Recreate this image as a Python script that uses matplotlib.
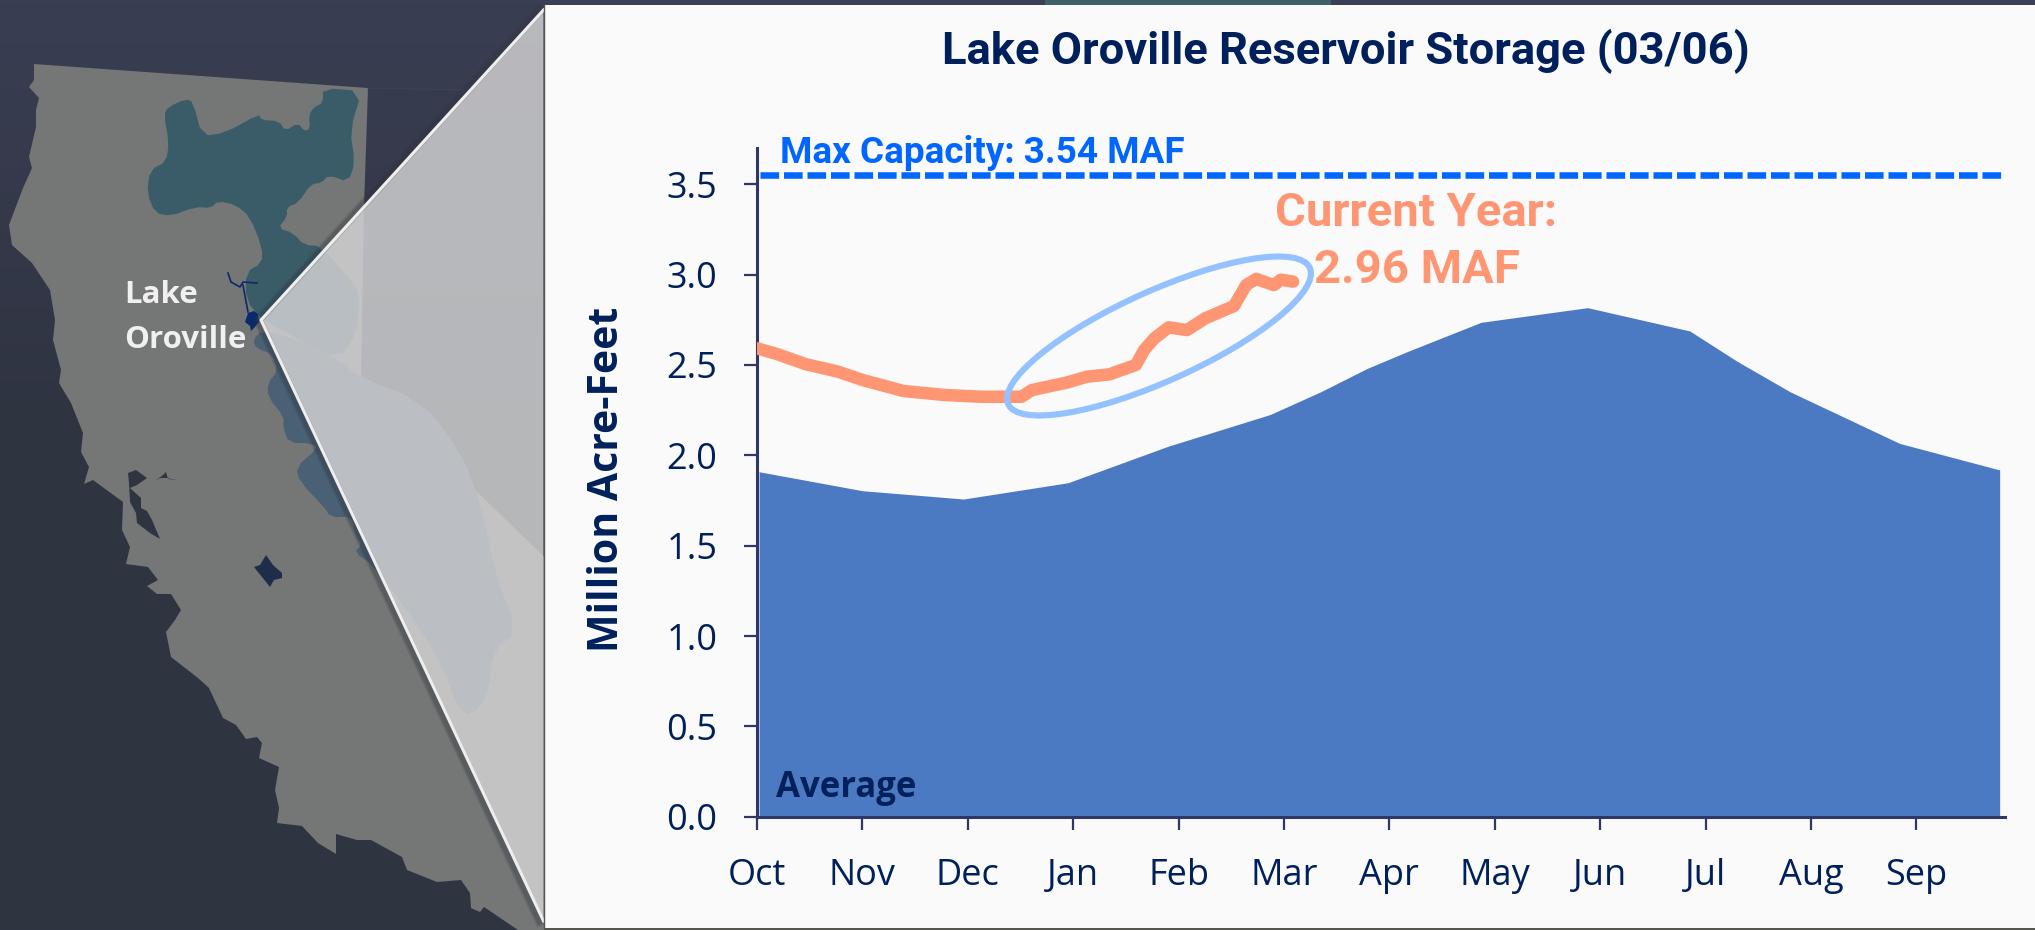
"""
Lake Oroville reservoir storage chart with the California locator map on the left.
"""

import numpy as np
import matplotlib
matplotlib.use("Agg")
import matplotlib.pyplot as plt
from matplotlib.patches import Polygon, Rectangle, Ellipse

# =========================
# Data
# =========================

MONTHS = ["Oct", "Nov", "Dec", "Jan", "Feb", "Mar", "Apr", "May", "Jun", "Jul", "Aug", "Sep"]
Y_TICKS = [0.0, 0.5, 1.0, 1.5, 2.0, 2.5, 3.0, 3.5]

# x is in months since 1 Oct
AVG_X = [0.02, 1.0, 1.96, 2.95, 3.9, 4.87, 5.35, 5.79, 6.17, 6.87, 7.88, 8.85, 9.3, 9.80, 10.84, 11.79]
AVG_Y = [1.909, 1.804, 1.758, 1.848, 2.05, 2.226, 2.352, 2.481, 2.574, 2.736, 2.817, 2.688, 2.52, 2.352, 2.066, 1.919]

CUR_X = [0.0, 0.187, 0.458, 0.768, 1.0, 1.388, 1.775, 2.123, 2.51, 2.607, 2.937, 3.13, 3.343,
         3.595, 3.673, 3.77, 3.905, 4.079, 4.253, 4.525, 4.641, 4.737, 4.904, 4.97, 5.086]
CUR_Y = [2.592, 2.561, 2.505, 2.463, 2.417, 2.356, 2.334, 2.324, 2.324, 2.361, 2.402, 2.435, 2.448,
         2.5, 2.583, 2.647, 2.708, 2.693, 2.758, 2.826, 2.942, 2.976, 2.942, 2.972, 2.961]

MAX_CAPACITY_LINE = 3.55

# Map outlines, traced in picture pixels
CALIFORNIA = [(34, 64), (34, 80), (29, 87), (39, 98), (36, 110), (36, 127), (29, 157), (32, 168), (23, 188),
              (9, 225), (12, 245), (32, 263), (50, 290), (55, 320), (53, 340), (61, 370), (59, 383), (71, 403),
              (83, 433), (81, 452), (89, 467), (84, 484), (93, 480), (123, 502), (122, 530), (130, 547), (126, 564),
              (148, 567), (158, 580), (147, 586), (157, 594), (171, 594), (181, 610), (175, 620), (166, 632),
              (171, 657), (198, 678), (209, 688), (223, 718), (236, 725), (246, 739), (257, 737), (262, 743),
              (259, 758), (279, 767), (275, 790), (279, 808), (277, 823), (302, 826), (318, 843), (336, 854),
              (336, 834), (357, 840), (371, 840), (402, 857), (407, 870), (437, 882), (461, 880), (470, 893),
              (471, 908), (480, 912), (484, 907), (518, 930), (560, 930), (560, 572), (361, 380), (364, 207), (368, 88)]
UPPER_BASIN = [(323, 88), (362, 91), (350, 130), (355, 163), (348, 182), (329, 175), (321, 183), (311, 184),
               (298, 203), (287, 207), (287, 217), (278, 228), (293, 233), (304, 245), (321, 246), (357, 287),
               (359, 300), (357, 333), (339, 360), (300, 340), (262, 320), (246, 300), (246, 272), (262, 263),
               (262, 247), (250, 217), (236, 205), (218, 201), (211, 208), (195, 207), (171, 216), (155, 213),
               (147, 193), (150, 170), (166, 162), (169, 143), (164, 115), (168, 107), (186, 99), (193, 102),
               (202, 136), (225, 133), (259, 114), (261, 120), (279, 121), (285, 131), (298, 123), (304, 131),
               (310, 129), (309, 115), (314, 107), (323, 103)]
SIERRA = [(262, 330), (253, 340), (256, 348), (272, 354), (278, 370), (268, 383), (268, 397), (284, 417),
          (283, 427), (289, 443), (310, 443), (318, 448), (296, 467), (300, 482), (325, 508), (330, 517),
          (352, 517), (355, 535), (362, 545), (354, 552), (373, 565), (400, 600), (440, 660), (457, 707),
          (471, 717), (489, 693), (493, 650), (518, 632), (495, 573), (482, 507), (460, 450), (420, 400),
          (361, 378), (339, 360), (300, 340)]
BAY = [(128, 473), (136, 470), (147, 478), (137, 485), (130, 488), (141, 498), (141, 508), (147, 511),
       (152, 520), (160, 539), (150, 533), (137, 523), (136, 513), (130, 502), (129, 483)]
DELTA = [(155, 481), (163, 475), (166, 472), (168, 479), (178, 480), (166, 478), (160, 478)]
TULARE = [(266, 555), (273, 565), (282, 573), (282, 578), (274, 580), (270, 587), (262, 577), (254, 567), (260, 565)]
OROVILLE_ARM_1 = [(228, 273), (231, 282), (240, 287), (243, 282), (257, 283)]
OROVILLE_ARM_2 = [(243, 285), (245, 296), (248, 312)]
OROVILLE_LAKE = [(245, 322), (248, 313), (254, 311), (258, 314), (259, 322), (254, 328), (251, 331), (250, 326)]
CONE = [(261, 320), (543.5, 10), (543.5, 921)]

# =========================
# Styling
# =========================

NAVY = "#00205b"
ORANGE = "#ff9673"
BLUE = "#0066ff"
FILL = "#4c7ac2"
LIGHT_BLUE = "#94c1ff"
AXIS = "#2f3768"
PANEL = "#fafafa"

W, H = 2035, 930


def rounded(outline):
    """Cut the corners of a traced outline so it reads as a soft shape."""
    pts = np.array(outline, dtype=float)
    nxt = np.roll(pts, -1, axis=0)
    return np.column_stack([0.75 * pts + 0.25 * nxt, 0.25 * pts + 0.75 * nxt]).reshape(-1, 2)


def main():
    fig = plt.figure(figsize=(W / 100, H / 100), dpi=100)

    # Full figure axes in picture pixels, for the map and the panel
    bg = fig.add_axes([0, 0, 1, 1])
    bg.set_xlim(0, W)
    bg.set_ylim(H, 0)
    bg.axis("off")

    gradient = np.linspace(0, 1, 256).reshape(-1, 1)
    top = np.array([0x3a, 0x3e, 0x53]) / 255
    bottom = np.array([0x2f, 0x34, 0x41]) / 255
    stop = np.clip(gradient * 2.2, 0, 1)[:, :, None]
    bg.imshow(top * (1 - stop) + bottom * stop, extent=[0, W, H, 0], aspect="auto", zorder=0)
    bg.set_xlim(0, W)
    bg.set_ylim(H, 0)

    bg.add_patch(Polygon(CALIFORNIA, closed=True, fc="#747775", ec="none", zorder=1))
    bg.add_patch(Polygon(rounded(SIERRA), closed=True, fc="#4a6175", ec="none", zorder=2))
    bg.add_patch(Polygon(rounded(UPPER_BASIN), closed=True, fc="#3a5c68", ec="none", zorder=2))
    bg.add_patch(Polygon(BAY, closed=True, fc="#2f3441", ec="none", zorder=3))
    bg.add_patch(Polygon(DELTA, closed=True, fc="#2f3441", ec="none", zorder=3))
    bg.add_patch(Polygon(TULARE, closed=True, fc="#1f2d4a", ec="none", zorder=3))
    bg.add_patch(Polygon(OROVILLE_LAKE, closed=True, fc="#0a2a6b", ec="none", zorder=3))
    for arm in (OROVILLE_ARM_1, OROVILLE_ARM_2):
        xs, ys = zip(*arm)
        bg.plot(xs, ys, color="#0a2a6b", lw=1.2, zorder=3)
    bg.plot([368, 470], [88, 90], color="#3f4357", lw=0.8, zorder=1)

    # Zoom cone from the lake to the chart panel
    bg.add_patch(Polygon(CONE, closed=True, fc="#d5d5d5", alpha=0.82, ec="none", zorder=4))
    xs, ys = zip(*CONE)
    for width, colour, alpha in ((7, "#30343c", 0.18), (4.5, "#30343c", 0.25)):
        bg.plot([xs[1] - 4, xs[0] - 3, xs[2] - 4], [ys[1], ys[0], ys[2]], color=colour, lw=width,
                alpha=alpha, zorder=4, solid_joinstyle="round")
    bg.plot([xs[1], xs[0], xs[2]], [ys[1], ys[0], ys[2]], color="#eeeeee", lw=2.2, zorder=5)

    # Strips of the slide behind the panel
    bg.add_patch(Rectangle((544, 0), W - 544, 5, fc="#3c3f58", ec="none", zorder=5))
    bg.add_patch(Rectangle((1045, 0), 286, 5, fc="#3f6068", ec="none", zorder=5))
    bg.add_patch(Rectangle((544, 928), W - 544, 2, fc="#55564f", ec="none", zorder=5))
    bg.add_patch(Rectangle((544, 5), W - 544, 923, fc=PANEL, ec="none", zorder=6))
    bg.plot([544, 544], [5, 928], color="#55564f", lw=1, zorder=6)

    bg.text(124, 303, "Lake", color="#f0f0f0", fontsize=22.5, family="Open Sans", weight="bold",
            ha="left", va="baseline", zorder=7)
    bg.text(124, 348, "Oroville", color="#f0f0f0", fontsize=22.5, family="Open Sans", weight="bold",
            ha="left", va="baseline", zorder=7)

    # Chart axes, placed so that the ticks land on the reference pixels
    px_month = 105.4
    px_unit = 180.7
    left, right, base, ceil = 757, 2005, 816.7, 148
    ax = fig.add_axes([left / W, 1 - base / H, (right - left) / W, (base - ceil) / H])
    ax.patch.set_alpha(0)
    ax.set_xlim(0, (right - left) / px_month)
    ax.set_ylim(0, (base - ceil) / px_unit)

    ax.fill_between(AVG_X, AVG_Y, 0, color=FILL, lw=0, zorder=2)
    ax.plot([0.03, 11.8], [MAX_CAPACITY_LINE, MAX_CAPACITY_LINE], color=BLUE, lw=4.7, zorder=3,
            dashes=(2.85, 0.75), dash_capstyle="butt")
    ax.plot(CUR_X, CUR_Y, color=ORANGE, lw=9, zorder=4, solid_capstyle="round", solid_joinstyle="round")

    # Ellipse is round in pixels, so it is drawn in the picture axes transform
    ax.add_patch(Ellipse((1159, 336), 331, 90, angle=-24.3, transform=bg.transData, fc="none",
                         ec=LIGHT_BLUE, lw=4.4, zorder=5, clip_on=False))

    for side in ("top", "right"):
        ax.spines[side].set_visible(False)
    for side in ("left", "bottom"):
        ax.spines[side].set_color(AXIS)
        ax.spines[side].set_linewidth(2.2)

    ax.set_xticks(range(len(MONTHS)))
    ax.set_xticklabels(MONTHS)
    ax.set_yticks(Y_TICKS)
    ax.set_yticklabels([f"{v:.1f}" for v in Y_TICKS])
    ax.tick_params(axis="both", length=9.5, width=1.6, color=AXIS, labelcolor=NAVY, labelsize=26)
    ax.tick_params(axis="x", pad=20)
    ax.tick_params(axis="y", pad=19)
    for tick_label in ax.get_xticklabels() + ax.get_yticklabels():
        tick_label.set_family("Open Sans")

    def label(x, y, text, **kwargs):
        ax.text(x, y, text, transform=bg.transData, clip_on=False, zorder=6, **kwargs)

    label(1345.5, 64, "Lake Oroville Reservoir Storage (03/06)", color=NAVY, fontsize=32.7, family="Roboto",
          weight="bold", ha="center", va="baseline")
    label(780, 163, "Max Capacity: 3.54 MAF", color=BLUE, fontsize=26.6, family="Roboto", weight="bold",
          ha="left", va="baseline")
    label(1416, 226, "Current Year:", color=ORANGE, fontsize=34, family="Roboto", weight="bold",
          ha="center", va="baseline")
    label(1417, 283, "2.96 MAF", color=ORANGE, fontsize=34, family="Roboto", weight="bold",
          ha="center", va="baseline")
    label(776, 797, "Average", color=NAVY, fontsize=25, family="Open Sans", weight="bold",
          ha="left", va="baseline")
    label(608, 479, "Million Acre-Feet", color=NAVY, fontsize=29.5, family="Open Sans", weight="bold",
          rotation=90, ha="center", va="center")

    fig.savefig("out.png", dpi=100)
    plt.close(fig)


if __name__ == "__main__":
    main()
